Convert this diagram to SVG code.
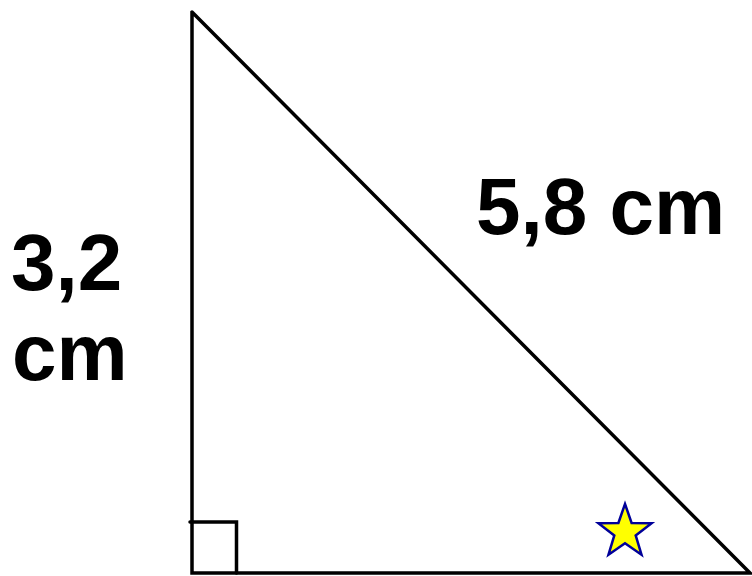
<svg xmlns="http://www.w3.org/2000/svg" width="752" height="576" viewBox="0 0 752 576">
<style>
.ln{fill:none;stroke:#000;stroke-width:3.5;stroke-linejoin:miter;stroke-linecap:round}
.lbl{font-family:"Liberation Sans",Arial,sans-serif;font-weight:bold;font-size:80px;fill:#000}
</style>
<rect width="752" height="576" fill="#fff"/>
<g id="triangle">
<polyline class="ln" points="192,12 192,573 750,573 192,12"/>
</g>
<g id="right-angle">
<polyline class="ln" points="190,522 236.5,522 236.5,573"/>
</g>
<g id="star">
<polygon points="625,504 631.6,522.9 651.6,523.3 635.7,535.4 641.5,554.7 625,543.2 608.5,554.7 614.3,535.4 598.4,523.3 618.4,522.9" fill="#ffff00" stroke="#000099" stroke-width="2.5" stroke-linejoin="miter"/>
</g>
<g id="labels">
<text class="lbl" x="476" y="234">5,8 cm</text>
<text class="lbl" x="11" y="290">3,2</text>
<text class="lbl" x="12" y="380">cm</text>
</g>
</svg>
